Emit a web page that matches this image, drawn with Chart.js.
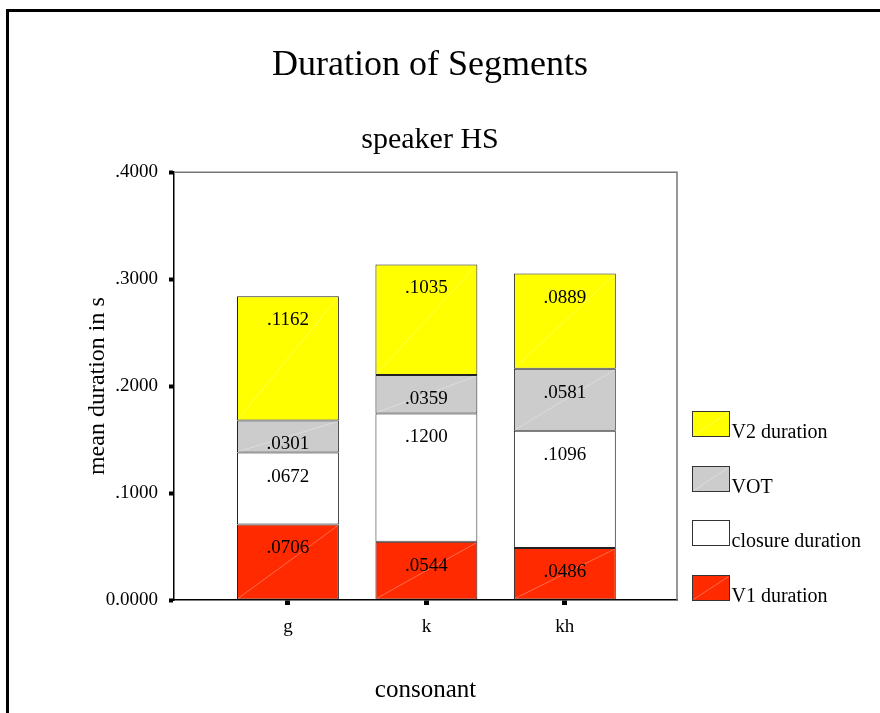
<!DOCTYPE html>
<html>
<head>
<meta charset="utf-8">
<title>Duration of Segments</title>
<script src="https://cdn.jsdelivr.net/npm/chart.js@4.4.1/dist/chart.umd.min.js"></script>
<style>
  html, body { margin: 0; padding: 0; background: #fff; overflow: hidden; }
  #wrap { position: relative; width: 880px; height: 713px; overflow: hidden; }
  #frame { position: absolute; left: 6px; top: 9px; width: 1000px; height: 1000px;
           border-left: 3px solid #000; border-top: 3px solid #000; }
  canvas { position: absolute; left: 0; top: 0; }
</style>
</head>
<body>
<div id="wrap">
  <div id="frame"></div>
  <canvas id="durChart" width="880" height="713"></canvas>
</div>
<script>
// values
const consonants = ['g', 'k', 'kh'];
const v1Duration = [0.0706, 0.0544, 0.0486];
const closureDuration = [0.0672, 0.1200, 0.1096];
const vot = [0.0301, 0.0359, 0.0581];
const v2Duration = [0.1162, 0.1035, 0.0889];
const yTicks = [0, 0.1, 0.2, 0.3, 0.4];

const serif = "'Liberation Serif', 'Times New Roman', serif";
Chart.defaults.font.family = serif;
Chart.defaults.color = '#000';

function fmt(v) {
  return v === 0 ? '0.0000' : v.toFixed(4).replace(/^0/, '');
}

function toPoints(arr) {
  return arr.map((v, i) => ({ x: i, y: v }));
}

// value labels, faint diagonals, top/right frame of the plot, legend
const extras = {
  id: 'extras',
  afterDatasetsDraw(chart) {
    const ctx = chart.ctx;
    const a = chart.chartArea;
    ctx.save();

    chart.data.datasets.forEach((ds, di) => {
      chart.getDatasetMeta(di).data.forEach((bar, i) => {
        const l = bar.x - bar.width / 2, r = bar.x + bar.width / 2;
        ctx.strokeStyle = 'rgba(255,255,255,0.3)';
        ctx.lineWidth = 1;
        ctx.beginPath();
        ctx.moveTo(l + 1, bar.base - 1);
        ctx.lineTo(r - 1, bar.y + 1);
        ctx.stroke();

        ctx.fillStyle = '#000';
        ctx.font = '19px ' + serif;
        ctx.textAlign = 'center';
        ctx.textBaseline = 'middle';
        ctx.fillText(fmt(ds.data[i].y), bar.x, bar.y + 24);
      });
    });

    ctx.strokeStyle = '#777';
    ctx.lineWidth = 1.5;
    ctx.beginPath();
    ctx.moveTo(a.left, a.top);
    ctx.lineTo(a.right, a.top);
    ctx.lineTo(a.right, a.bottom);
    ctx.stroke();

    // legend, top to bottom in reverse dataset order
    const bw = 37, bh = 25, step = 54.7;
    const bx = Math.round(a.right + 15) + 0.5;
    ctx.font = '20px ' + serif;
    ctx.textAlign = 'left';
    ctx.textBaseline = 'alphabetic';
    chart.data.datasets.forEach((ds, k) => {
      const top = Math.round(a.bottom - bh - k * step) + 0.5;
      ctx.fillStyle = ds.backgroundColor;
      ctx.fillRect(bx, top, bw, bh);
      ctx.strokeStyle = 'rgba(255,255,255,0.3)';
      ctx.lineWidth = 1;
      ctx.beginPath();
      ctx.moveTo(bx + 1, top + bh - 1);
      ctx.lineTo(bx + bw - 1, top + 1);
      ctx.stroke();
      ctx.strokeStyle = '#333';
      ctx.strokeRect(bx, top, bw, bh);
      ctx.fillStyle = '#000';
      ctx.fillText(ds.label, bx + bw + 2, top + bh + 1);
    });

    ctx.restore();
  }
};

const barStyle = { borderColor: '#222', borderWidth: 1, borderSkipped: false };

new Chart(document.getElementById('durChart'), {
  type: 'bar',
  data: {
    datasets: [
      { label: 'V1 duration', data: toPoints(v1Duration), backgroundColor: '#ff2a00', ...barStyle },
      { label: 'closure duration', data: toPoints(closureDuration), backgroundColor: '#ffffff', ...barStyle },
      { label: 'VOT', data: toPoints(vot), backgroundColor: '#cccccc', ...barStyle },
      { label: 'V2 duration', data: toPoints(v2Duration), backgroundColor: '#ffff00', ...barStyle }
    ]
  },
  options: {
    responsive: false,
    animation: false,
    layout: { padding: { left: 0, right: 20, top: 0, bottom: 0 } },
    categoryPercentage: 1,
    barPercentage: 0.736,
    plugins: {
      legend: { display: false },
      tooltip: { enabled: false },
      title: {
        display: true,
        text: 'Duration of Segments',
        font: { size: 36, weight: 'normal' },
        color: '#000',
        padding: { top: 44, bottom: 0 }
      },
      subtitle: {
        display: true,
        text: 'speaker HS',
        font: { size: 30, weight: 'normal' },
        color: '#000',
        padding: { top: 35, bottom: 14 }
      }
    },
    scales: {
      x: {
        type: 'linear',
        stacked: true,
        offset: false,
        min: -0.823,
        max: 2.81,
        afterBuildTicks: s => { s.ticks = consonants.map((c, i) => ({ value: i })); },
        afterFit: s => { s.height = 113; },
        ticks: {
          callback: v => consonants[v] ?? '',
          font: { size: 19 },
          padding: 11,
          maxRotation: 0
        },
        grid: { offset: false, drawOnChartArea: false, drawTicks: true, tickLength: 5, tickWidth: 5, tickColor: '#000' },
        border: { color: '#000', width: 1.5 },
        title: {
          display: true,
          text: 'consonant',
          font: { size: 25 },
          padding: { top: 0, bottom: 8 }
        }
      },
      y: {
        stacked: true,
        min: 0,
        max: 0.4,
        afterBuildTicks: s => { s.ticks = yTicks.map(v => ({ value: v })); },
        afterFit: s => { s.width = 174; },
        ticks: {
          callback: v => fmt(v),
          font: { size: 19 },
          padding: 11
        },
        grid: { drawOnChartArea: false, drawTicks: true, tickLength: 5, tickWidth: 4, tickColor: '#000' },
        border: { color: '#000', width: 1.5 },
        title: {
          display: true,
          text: 'mean duration in s',
          font: { size: 24 },
          padding: { top: 83, bottom: 0 }
        }
      },
      legendSpace: {
        type: 'linear',
        position: 'right',
        display: true,
        grid: { display: false },
        ticks: { display: false },
        border: { display: false },
        afterFit: s => { s.width = 183; }
      }
    }
  },
  plugins: [extras]
});
</script>
</body>
</html>
